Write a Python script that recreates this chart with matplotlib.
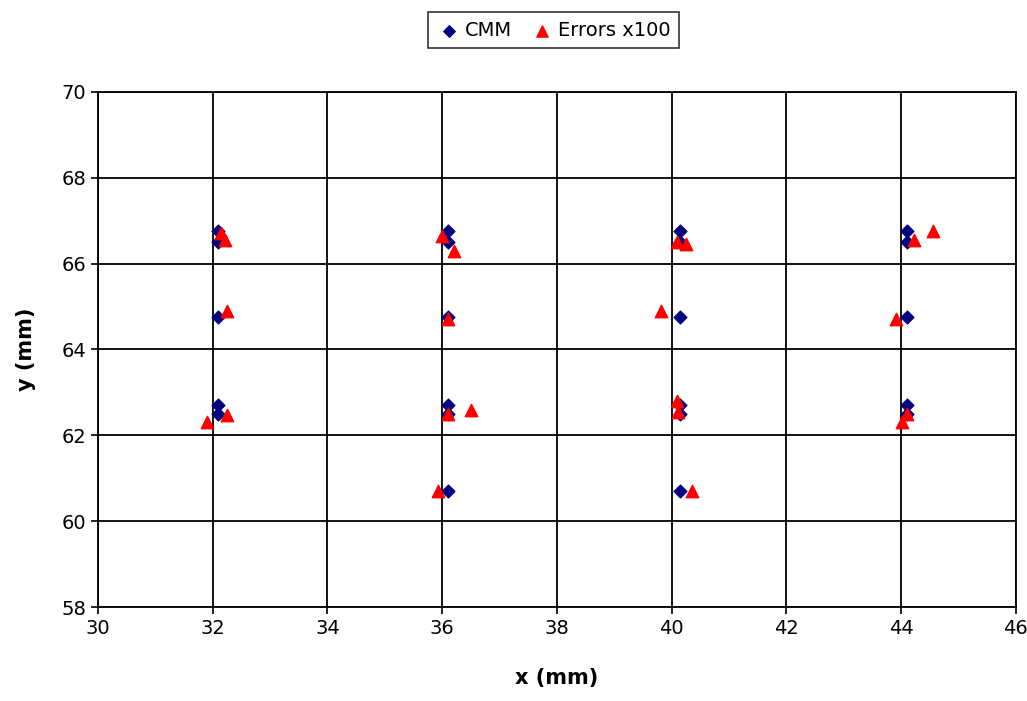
import matplotlib
matplotlib.use("Agg")
import matplotlib.pyplot as plt

# CMM measured points (mm)
cmm_x = [32.1, 32.1, 32.1, 32.1, 32.1,
         36.1, 36.1, 36.1, 36.1, 36.1, 36.1,
         40.15, 40.15, 40.15, 40.15, 40.15, 40.15,
         44.1, 44.1, 44.1, 44.1, 44.1]
cmm_y = [66.75, 66.5, 64.75, 62.7, 62.5,
         66.75, 66.5, 64.75, 62.7, 62.5, 60.7,
         66.75, 66.5, 64.75, 62.7, 62.5, 60.7,
         66.75, 66.5, 64.75, 62.7, 62.5]

# Errors magnified x100
err_x = [32.15, 32.22, 32.25, 31.9, 32.25,
         36.0, 36.2, 36.1, 36.1, 36.5, 35.92,
         40.1, 40.25, 39.82, 40.1, 40.12, 40.35,
         44.22, 44.55, 43.92, 44.02, 44.1]
err_y = [66.72, 66.55, 64.9, 62.3, 62.48,
         66.65, 66.3, 64.7, 62.5, 62.6, 60.7,
         66.5, 66.45, 64.9, 62.8, 62.55, 60.7,
         66.55, 66.75, 64.72, 62.32, 62.5]

x_ticks = [30, 32, 34, 36, 38, 40, 42, 44, 46]
y_ticks = [58, 60, 62, 64, 66, 68, 70]

fig = plt.figure(figsize=(10.27, 7.01), dpi=100)
ax = fig.add_axes([0.0954, 0.134, 0.8936, 0.735])

ax.scatter(cmm_x, cmm_y, marker="D", s=42, color="#000080", label="CMM", zorder=3)
ax.scatter(err_x, err_y, marker="^", s=80, color="#ff0000", label="Errors x100", zorder=4)

ax.set_xlim(30, 46)
ax.set_ylim(58, 70)
ax.set_xticks(x_ticks)
ax.set_yticks(y_ticks)
ax.grid(True, color="black", linewidth=1.3)
ax.set_axisbelow(True)
for s in ax.spines.values():
    s.set_color("black")
    s.set_linewidth(1.3)
ax.tick_params(labelsize=14, length=5, width=1.2, direction="out")

ax.set_xlabel("x (mm)", fontsize=15, fontweight="bold", labelpad=22)
ax.set_ylabel("y (mm)", fontsize=15, fontweight="bold", labelpad=18)

leg = fig.legend(loc="center", bbox_to_anchor=(0.539, 0.957), ncol=2, fontsize=14,
                 frameon=True, fancybox=False, edgecolor="black",
                 handletextpad=0.15, columnspacing=0.9, borderpad=0.45,
                 handlelength=1.3, markerscale=0.9, borderaxespad=0.2)
leg.get_frame().set_linewidth(1.2)

fig.savefig("out.png", dpi=100)
